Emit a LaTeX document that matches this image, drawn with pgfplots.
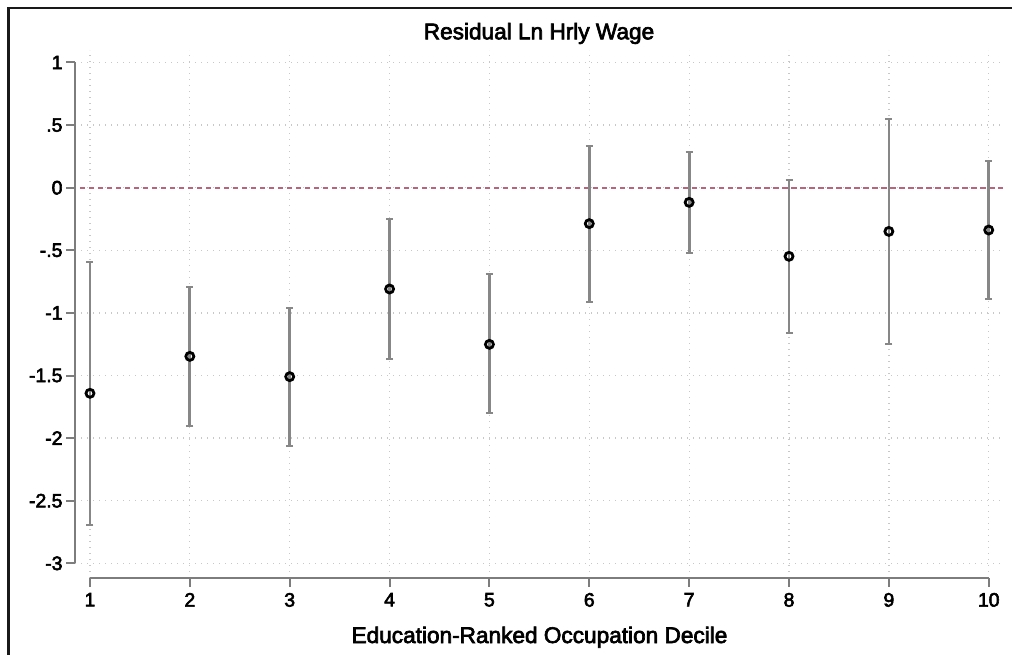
\documentclass[border=0pt]{standalone}
\usepackage{pgfplots}
\pgfplotsset{compat=1.18}
\usepackage{pgfplotstable}
\usepackage{fontspec}
\setmainfont{Liberation Sans}
\newfontfamily\heavy[FakeBold=3]{Liberation Sans}

\definecolor{bargray}{RGB}{135,135,135}
\definecolor{axgray}{RGB}{125,125,125}
\definecolor{gridgray}{RGB}{200,200,200}
\definecolor{zeroline}{RGB}{185,100,125}

% decile, estimate, lower and upper bound of the interval
\pgfplotstableread{
x   y       lo      hi
1   -1.642  -2.694  -0.591
2   -1.347  -1.901  -0.791
3   -1.509  -2.061  -0.958
4   -0.809  -1.366  -0.250
5   -1.251  -1.802  -0.692
6   -0.287  -0.911   0.335
7   -0.117  -0.519   0.283
8   -0.548  -1.161   0.061
9   -0.349  -1.249   0.551
10  -0.338  -0.892   0.211
}\resid

\begin{document}
\begin{tikzpicture}
\useasboundingbox (0,0) rectangle (1012bp,655bp);
\draw[line width=2.6bp, black!90, line join=miter] (8.3bp,0) -- (8.3bp,647bp) -- (1012bp,647bp);
\begin{axis}[
  at={(75bp,77bp)}, anchor=south west,
  scale only axis, width=928bp, height=528bp,
  xmin=0.85, xmax=10.143, ymin=-3.117, ymax=1.0998,
  clip=false,
  axis line style={draw=none},
  xtick={1,2,3,4,5,6,7,8,9,10},
  xticklabels={1,2,3,4,5,6,7,8,9,10},
  ytick={-3,-2.5,-2,-1.5,-1,-0.5,0,0.5,1},
  yticklabels={-3,-2.5,-2,-1.5,-1,-.5,0,.5,1},
  xtick pos=bottom, ytick pos=left,
  tick align=outside, major tick length=8.5bp,
  tick style={axgray, line width=2bp},
  tick label style={font=\heavy\fontsize{19.5}{22}\selectfont, black},
  xticklabel style={yshift=-3bp},
  yticklabel style={xshift=-0.5bp},
  grid=major,
  major grid style={gridgray, line width=1.3bp, dash pattern=on 1.3bp off 4.7bp},
]
\addplot[zeroline, line width=1.7bp, dash pattern=on 5.5bp off 3.5bp] coordinates {(0.9,0) (10.143,0)};
\addplot[only marks, mark=o, mark size=4bp, mark options={black, line width=2.8bp},
  error bars/.cd, y dir=both, y explicit,
  error bar style={bargray, line width=2.7bp},
  error mark options={rotate=90, bargray, line width=2bp, mark size=3.5bp}]
  table[x=x, y=y, y error plus expr=\thisrow{hi}-\thisrow{y}, y error minus expr=\thisrow{y}-\thisrow{lo}] {\resid};
\draw[axgray, line width=2bp] (axis cs:0.85,1) -- (axis cs:0.85,-3);
\draw[axgray, line width=2bp] (axis cs:1,-3.117) -- (axis cs:10,-3.117);
\end{axis}
\node[anchor=base, font=\heavy\fontsize{22.7}{27}\selectfont] at (539bp,615.7bp) {Residual Ln Hrly Wage};
\node[anchor=base, font=\heavy\fontsize{22.7}{27}\selectfont] at (539.5bp,12bp) {Education-Ranked Occupation Decile};
\end{tikzpicture}
\end{document}
